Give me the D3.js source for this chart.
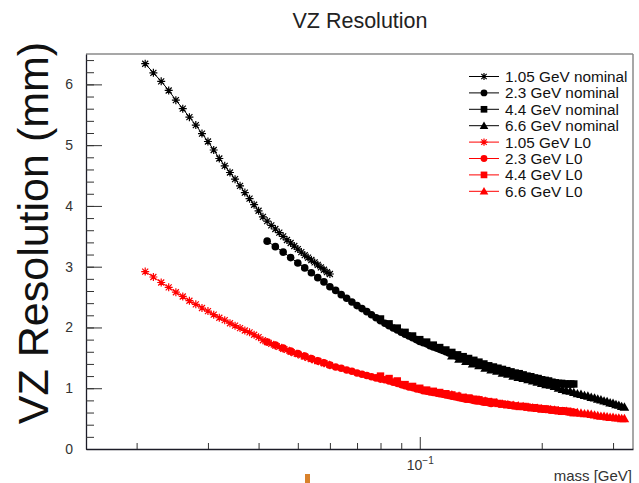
<!DOCTYPE html>
<html><head><meta charset="utf-8">
<script src="https://cdn.jsdelivr.net/npm/d3@7"></script>
<style>html,body{margin:0;padding:0;background:#fff}svg{display:block;font-family:"Liberation Sans",Arial,Helvetica,sans-serif}</style>
</head><body><svg id="c" width="639" height="483"></svg>
<script>
// ---- data (mass in MeV, resolution in mm) ----
const mass105 = [21,22,23,24,25,26,27,28,29,30,31,32,33,34,35,36,37,38,39,40,41,42,43,44,45,46,47,48,49,50,51,52,53,54,55,56,57,58,59,60];
const mass23 = [42,44,46,48,50,52,54,56,58,60,62,64,66,68,70,72,74,76,78,80,82,84,86,88,90,92,94,96,98,100,102,104,106,108,110,112,114,116,118,120,122,124,126,128,130,132,134,136,138,140,142,144,146,148,150];
const mass44 = [80,84,88,92,96,100,104,108,112,116,120,124,128,132,136,140,144,148,152,156,160,164,168,172,176,180,184,188,192,196,200,204,208,212,216,220,224,228,232,236,240];
const mass66 = [120,125,130,135,140,145,150,155,160,165,170,175,180,185,190,195,200,205,210,215,220,225,230,235,240,245,250,255,260,265,270,275,280,285,290,295,300,305,310,315,320];

const nom105 = [6.34,6.19,6.05,5.90,5.74,5.60,5.46,5.33,5.19,5.06,4.92,4.78,4.66,4.55,4.44,4.33,4.22,4.12,4.02,3.92,3.82,3.75,3.68,3.62,3.56,3.50,3.44,3.39,3.34,3.29,3.24,3.19,3.15,3.11,3.07,3.03,2.99,2.95,2.91,2.88];
const nom23 = [3.42,3.33,3.24,3.15,3.06,2.98,2.90,2.82,2.75,2.67,2.61,2.54,2.48,2.42,2.36,2.31,2.26,2.21,2.16,2.11,2.07,2.03,1.99,1.96,1.92,1.89,1.86,1.83,1.80,1.77,1.75,1.73,1.70,1.68,1.66,1.64,1.62,1.60,1.58,1.56,1.54,1.52,1.51,1.49,1.47,1.46,1.45,1.43,1.42,1.40,1.39,1.37,1.36,1.34,1.33];
const nom44 = [2.14,2.06,1.99,1.92,1.86,1.80,1.76,1.71,1.67,1.63,1.59,1.55,1.52,1.49,1.46,1.43,1.40,1.37,1.35,1.33,1.31,1.29,1.27,1.25,1.24,1.22,1.20,1.19,1.17,1.16,1.14,1.13,1.12,1.10,1.09,1.08,1.08,1.07,1.07,1.07,1.07];
const nom66 = [1.53,1.48,1.44,1.40,1.37,1.33,1.30,1.28,1.25,1.23,1.20,1.18,1.16,1.14,1.12,1.10,1.08,1.06,1.05,1.03,1.00,0.98,0.96,0.95,0.93,0.91,0.90,0.88,0.87,0.85,0.84,0.82,0.81,0.79,0.78,0.76,0.75,0.73,0.72,0.70,0.69];

const l0105 = [2.92,2.83,2.74,2.66,2.58,2.51,2.44,2.38,2.32,2.27,2.21,2.16,2.12,2.07,2.03,1.99,1.95,1.92,1.88,1.84,1.79,1.76,1.73,1.70,1.68,1.65,1.63,1.60,1.58,1.56,1.54,1.52,1.50,1.48,1.46,1.45,1.43,1.41,1.40,1.38];
const l023 = [1.76,1.71,1.66,1.61,1.57,1.53,1.49,1.45,1.42,1.38,1.35,1.33,1.30,1.28,1.25,1.23,1.21,1.19,1.17,1.15,1.14,1.12,1.10,1.08,1.06,1.04,1.02,1.01,0.99,0.98,0.96,0.95,0.94,0.93,0.92,0.91,0.90,0.89,0.88,0.87,0.86,0.85,0.84,0.83,0.82,0.82,0.81,0.80,0.79,0.79,0.78,0.77,0.77,0.76,0.75];
const l044 = [1.20,1.16,1.12,1.06,1.03,1.00,0.97,0.95,0.93,0.91,0.89,0.87,0.85,0.84,0.82,0.81,0.79,0.78,0.77,0.75,0.74,0.73,0.72,0.71,0.70,0.70,0.69,0.68,0.68,0.67,0.66,0.66,0.65,0.64,0.64,0.63,0.63,0.62,0.62,0.61,0.60];
const l066 = [0.89,0.87,0.84,0.82,0.81,0.79,0.77,0.76,0.74,0.73,0.72,0.71,0.70,0.69,0.68,0.67,0.66,0.65,0.65,0.64,0.63,0.62,0.62,0.61,0.60,0.60,0.59,0.58,0.58,0.57,0.56,0.55,0.54,0.54,0.53,0.52,0.52,0.51,0.51,0.50,0.50];

const seriesLabels = ["1.05 GeV nominal","2.3 GeV nominal","4.4 GeV nominal","6.6 GeV nominal","1.05 GeV L0","2.3 GeV L0","4.4 GeV L0","6.6 GeV L0"];
const yTicks = [0,1,2,3,4,5,6];
const xMinorTicks = [0.02,0.03,0.04,0.05,0.06,0.07,0.08,0.09,0.2,0.3];
const xMajorTicks = [0.1];

const series = [
  {label: seriesLabels[0], mass: mass105, vals: nom105, color: "#000", shape: "star"},
  {label: seriesLabels[1], mass: mass23, vals: nom23, color: "#000", shape: "circle"},
  {label: seriesLabels[2], mass: mass44, vals: nom44, color: "#000", shape: "square"},
  {label: seriesLabels[3], mass: mass66, vals: nom66, color: "#000", shape: "triangle"},
  {label: seriesLabels[4], mass: mass105, vals: l0105, color: "#ff0000", shape: "star"},
  {label: seriesLabels[5], mass: mass23, vals: l023, color: "#ff0000", shape: "circle"},
  {label: seriesLabels[6], mass: mass44, vals: l044, color: "#ff0000", shape: "square"},
  {label: seriesLabels[7], mass: mass66, vals: l066, color: "#ff0000", shape: "triangle"}
];

// ---- layout ----
const svg = d3.select("#c");
const L = 86, R = 633, T = 54, B = 449;
const x = d3.scaleLog().domain([0.015, 0.336]).range([L, R]);
const y = d3.scaleLinear().domain([0, 6.5]).range([B, T]);

// frame
svg.append("line").attr("x1", L).attr("x2", R).attr("y1", T).attr("y2", T).attr("stroke", "#8a8a8a").attr("stroke-width", 1.5);
svg.append("line").attr("x1", R).attr("x2", R).attr("y1", T).attr("y2", B).attr("stroke", "#8a8a8a").attr("stroke-width", 1.5);

// y axis
const gy = svg.append("g").attr("transform", `translate(${L},0)`)
  .call(d3.axisLeft(y).tickValues(yTicks).tickSize(-16).tickSizeOuter(0).tickPadding(13).tickFormat(d3.format("d")));
gy.selectAll("text").attr("font-size", 14).attr("fill", "#333").attr("font-family", "Liberation Sans, Arial, sans-serif");
const gym = svg.append("g").attr("transform", `translate(${L},0)`)
  .call(d3.axisLeft(y).tickValues(d3.range(0, 6.41, 0.2)).tickSize(-8).tickFormat(""));
gym.select(".domain").remove();

// x axis
const gx = svg.append("g").attr("transform", `translate(0,${B})`)
  .call(d3.axisBottom(x).tickValues(xMajorTicks).tickSize(-12).tickSizeOuter(0).tickPadding(11).tickFormat(() => ""));
gx.selectAll(".tick text").each(function() {
  const t = d3.select(this).attr("font-size", 14).attr("fill", "#333").attr("font-family", "Liberation Sans, Arial, sans-serif");
  t.append("tspan").text("10");
  t.append("tspan").attr("font-size", 10).attr("dy", "-0.55em").text("\u22121");
});
const gxm = svg.append("g").attr("transform", `translate(0,${B})`)
  .call(d3.axisBottom(x).tickValues(xMinorTicks).tickSize(-6).tickFormat(""));
gxm.select(".domain").remove();
svg.selectAll(".domain").attr("stroke", "#1c1c28").attr("stroke-width", 1.3);
svg.selectAll(".tick line").attr("stroke", "#333");

// labels
svg.append("text").attr("x", 360).attr("y", 28).attr("text-anchor", "middle").attr("font-size", 21.5).attr("fill", "#222").text("VZ Resolution");
svg.append("text").attr("transform", "translate(48,233) rotate(-90)").attr("text-anchor", "middle").attr("font-size", 43).attr("fill", "#111").text("VZ Resolution (mm)");
svg.append("text").attr("x", 632).attr("y", 481).attr("text-anchor", "end").attr("font-size", 15).attr("fill", "#333").text("mass [GeV]");
svg.append("rect").attr("x", 305).attr("y", 474).attr("width", 5).attr("height", 9).attr("fill", "#d9822b");

// markers
function drawMarker(g, shape, cx, cy, color, k) {
  k = k || 1;
  if (shape === "star") {
    const a = 4 * k, b = 3 * k;
    g.append("path").attr("d", `M${cx-a},${cy}h${2*a}M${cx},${cy-a}v${2*a}M${cx-b},${cy-b}l${2*b},${2*b}M${cx-b},${cy+b}l${2*b},${-2*b}`)
      .attr("stroke", color).attr("stroke-width", 1.2).attr("fill", "none");
  } else if (shape === "circle") {
    g.append("circle").attr("cx", cx).attr("cy", cy).attr("r", 3.8 * k).attr("fill", color);
  } else if (shape === "square") {
    const h = 3.7 * k;
    g.append("rect").attr("x", cx - h).attr("y", cy - h).attr("width", 2 * h).attr("height", 2 * h).attr("fill", color);
  } else {
    const w = 4.8 * k;
    g.append("path").attr("d", `M${cx},${cy-4.8*k}L${cx+w},${cy+3.6*k}L${cx-w},${cy+3.6*k}Z`).attr("fill", color);
  }
}

const plot = svg.append("g");
const line = d3.line().x(d => x(d[0] / 1000)).y(d => y(d[1]));
series.forEach(s => {
  const pts = s.mass.map((m, i) => [m, s.vals[i]]);
  const g = plot.append("g");
  g.append("path").attr("d", line(pts)).attr("fill", "none").attr("stroke", s.color).attr("stroke-width", 1);
  pts.forEach(p => drawMarker(g, s.shape, x(p[0] / 1000), y(p[1]), s.color));
});

// legend
const leg = svg.append("g");
series.forEach((s, i) => {
  const cy = 76.5 + i * 16.4;
  leg.append("line").attr("x1", 469).attr("x2", 499).attr("y1", cy).attr("y2", cy).attr("stroke", s.color).attr("stroke-width", 1);
  drawMarker(leg, s.shape, 484, cy, s.color, 0.9);
  leg.append("text").attr("x", 505).attr("y", cy + 5.5).attr("font-size", 15.3).attr("fill", "#111").text(s.label);
});
</script></body></html>
